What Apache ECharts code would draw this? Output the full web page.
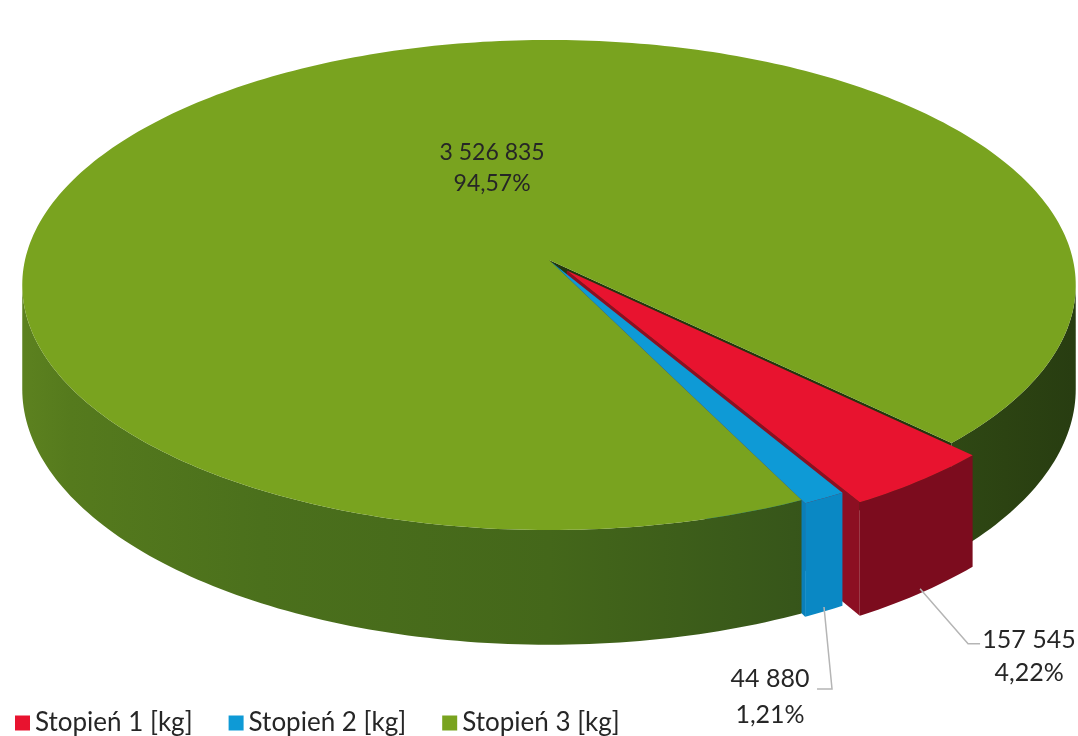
<!DOCTYPE html>
<html>
<head>
<meta charset="utf-8">
<script src="https://cdn.jsdelivr.net/npm/echarts@6/dist/echarts.min.js"></script>
<style>
  html, body { margin: 0; background: #fff; }
  #chart { width: 1078px; height: 736px; }
</style>
</head>
<body>
<div id="chart"></div>
<script>
var names = ['Stopień 1 [kg]', 'Stopień 2 [kg]', 'Stopień 3 [kg]'];
var values = [157545, 44880, 3526835];
var percentLabels = ['4,22%', '1,21%', '94,57%'];

// colours: top face, outer wall, radial wall
var topColors = ['#e8132f', '#0e9ad6', '#79a31f'];
var sideColors = ['#7c0c1e', '#0a88c4', null];
var radialColors = ['#8c0f22', '#0a7fb8', '#24360d'];
// green outer wall gets darker towards the right (angle, colour)
var greenShade = [[0, '#283d11'], [35, '#2c4312'], [65, '#37561a'], [90, '#44671a'],
                  [120, '#4b701c'], [150, '#557a1d'], [180, '#5c811f']];

// fake 3d geometry
var CX = 549, CY = 260, RX = 524, RY = 242.5, PERSP = 0.102, DEPTH = 103;
var START = 44.5;
var explode = [0.055, 0.012, 0];

var labelCfg = [
  { outside: true, dx: 48, dy: 55, tail: 12, tx: 49, ty: -20, lh: 33 },
  { outside: true, dx: 8, dy: 82, tail: -15, tx: -47, ty: -28, lh: 36 },
  { outside: false, angle: 254, r: 0.41, lh: 31 }
];

var total = values.reduce(function (a, b) { return a + b; }, 0);
var spans = [];
var acc = START;
values.forEach(function (v) {
  var span = v / total * 360;
  spans.push([acc, acc + span]);
  acc += span;
});

function cosd(a) { return Math.cos(a * Math.PI / 180); }
function sind(a) { return Math.sin(a * Math.PI / 180); }

function proj(u, v, drop) {
  var w = 1 / (1 - PERSP * v);
  return [CX + RX * u * w, CY + w * (RY * v + drop)];
}

function fmt(n) {
  return String(n).replace(/\B(?=(\d{3})+(?!\d))/g, ' ');
}

// horizontal gradient for the green wall, stops placed where each angle lands on screen
var xL = proj(-1, 0, 0)[0], xR = proj(1, 0, 0)[0];
var greenWall = new echarts.graphic.LinearGradient(xL, 0, xR, 0,
  greenShade.map(function (s) {
    var x = proj(cosd(s[0]), sind(s[0]), 0)[0];
    return { offset: Math.min(1, Math.max(0, (x - xL) / (xR - xL))), color: s[1] };
  }).sort(function (a, b) { return a.offset - b.offset; }), true);

function face(points, fill, z2) {
  return {
    type: 'polygon',
    shape: { points: points },
    style: { fill: fill },
    z2: z2,
    silent: true
  };
}

function buildSlice(i) {
  var a0 = spans[i][0], a1 = spans[i][1], mid = (a0 + a1) / 2;
  var ox = explode[i] * cosd(mid), oy = explode[i] * sind(mid);
  function pt(r, a, drop) {
    return proj(ox + r * cosd(a), oy + r * sind(a), drop);
  }
  var kids = [];
  var lim = Math.asin(PERSP) * 180 / Math.PI;

  // outer wall, only the part facing us
  [-360, 0, 360].forEach(function (k) {
    var s = Math.max(a0, lim + k), e = Math.min(a1, 180 - lim + k);
    if (e <= s) return;
    var upper = [], lower = [];
    for (var t = s; t < e; t += 1) {
      upper.push(pt(1, t, 0));
      lower.push(pt(1, t, DEPTH));
    }
    upper.push(pt(1, e, 0));
    lower.push(pt(1, e, DEPTH));
    var pts = upper.concat(lower.reverse());
    kids.push(face(pts, sideColors[i] || greenWall, sideColors[i] ? 195 : 190));
  });

  // radial walls, ordered by how close their rim edge is
  if (cosd(a1) > 0) {
    kids.push(face([pt(0, a1, 0), pt(1, a1, 0), pt(1, a1, DEPTH), pt(0, a1, DEPTH)],
      radialColors[i], 100 + (oy + sind(a1)) * 50));
  }
  if (cosd(a0) < 0) {
    kids.push(face([pt(0, a0, 0), pt(1, a0, 0), pt(1, a0, DEPTH), pt(0, a0, DEPTH)],
      radialColors[i], 100 + (oy + sind(a0)) * 50));
  }

  // top face
  var top = [pt(0, a0, 0)];
  for (var t = a0; t < a1; t += 1) top.push(pt(1, t, 0));
  top.push(pt(1, a1, 0));
  kids.push(face(top, topColors[i], 1000));

  // label
  var cfg = labelCfg[i];
  var txt = fmt(values[i]) + '\n' + percentLabels[i];
  if (cfg.outside) {
    var p0 = pt(1, mid, DEPTH - 4);
    var p1 = [p0[0] + cfg.dx, p0[1] + cfg.dy];
    var p2 = [p1[0] + cfg.tail, p1[1]];
    kids.push({
      type: 'polyline',
      shape: { points: [p0, p1, p2] },
      style: { stroke: '#b5b5b5', lineWidth: 1.5, fill: null },
      z2: 2000
    });
    kids.push({
      type: 'text',
      x: p2[0] + cfg.tx,
      y: p2[1] + cfg.ty,
      style: {
        text: txt, fill: '#262626', fontSize: 25, fontFamily: 'Lato',
        align: 'center', verticalAlign: 'top', lineHeight: cfg.lh
      },
      z2: 2000
    });
  } else {
    var lp = proj(cfg.r * cosd(cfg.angle), cfg.r * sind(cfg.angle), 0);
    kids.push({
      type: 'text',
      x: lp[0],
      y: lp[1],
      style: {
        text: txt, fill: '#262626', fontSize: 23, fontFamily: 'Lato',
        align: 'center', verticalAlign: 'middle', lineHeight: cfg.lh
      },
      z2: 2000
    });
  }
  return { type: 'group', children: kids };
}

var chart = echarts.init(document.getElementById('chart'));

var series = names.map(function (name, i) {
  return {
    name: name,
    type: 'custom',
    coordinateSystem: 'none',
    itemStyle: { color: topColors[i] },
    data: [values[i]],
    renderItem: function () { return buildSlice(i); }
  };
});

var option = {
  animation: false,
  legend: {
    data: names,
    left: 10,
    top: 705,
    icon: 'rect',
    itemWidth: 15,
    itemHeight: 15,
    itemGap: 36,
    textStyle: { fontSize: 26, fontFamily: 'Lato', color: '#262626' }
  },
  series: series
};

chart.setOption(option);
</script>
</body>
</html>
